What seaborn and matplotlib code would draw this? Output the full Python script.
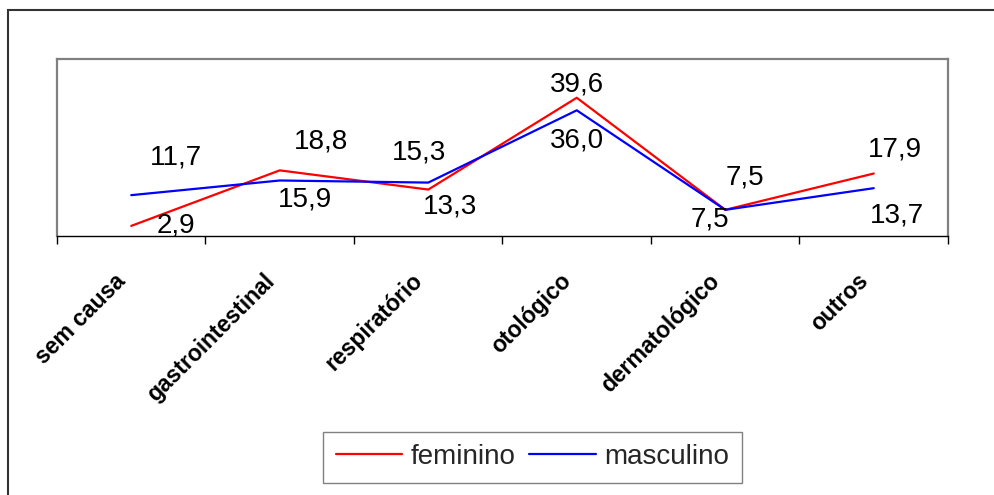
import matplotlib
matplotlib.use("Agg")
import matplotlib.pyplot as plt
import matplotlib.transforms as mtransforms
from matplotlib.patches import Rectangle
import numpy as np
import pandas as pd
import seaborn as sns

categorias = ["sem causa", "gastrointestinal", "respiratório", "otológico",
              "dermatológico", "outros"]
feminino = [2.9, 18.8, 13.3, 39.6, 7.5, 17.9]
masculino = [11.7, 15.9, 15.3, 36.0, 7.5, 13.7]
series = ["feminino", "masculino"]

# value label offsets in points (dx, dy)
off_fem = [(32, 0), (30, 21), (16, -12), (0, 9.5), (14.5, 23), (15, 17)]
off_masc = [(32, 27), (18, -14), (-6.5, 22), (0, -22), (-11, -7), (17, -20)]

df = pd.DataFrame({
    "x": list(range(len(categorias))) * 2,
    "valor": feminino + masculino,
    "sexo": [series[0]] * len(feminino) + [series[1]] * len(masculino),
})

sns.set_theme(style="white")
plt.rcParams["font.family"] = ["Liberation Sans", "DejaVu Sans"]

fig = plt.figure(figsize=(9.95, 4.95), dpi=100)
ax = fig.add_axes([57 / 995, 1 - 236 / 495, (948 - 57) / 995, (236 - 59) / 495])

sns.lineplot(data=df, x="x", y="valor", hue="sexo",
             palette={"feminino": "#ff0000", "masculino": "#0000ff"},
             linewidth=1.6, ax=ax, legend=False)

ax.set_xlim(-0.5, len(categorias) - 0.5)
ax.set_ylim(0, 50.7)
ax.set_xlabel("")
ax.set_ylabel("")
ax.set_yticks([])

for s in ("top", "right", "left"):
    ax.spines[s].set_color("#808080")
    ax.spines[s].set_linewidth(1.6)
ax.spines["bottom"].set_color("black")
ax.spines["bottom"].set_linewidth(1.0)

ax.set_xticks(range(len(categorias)))
ax.set_xticklabels(categorias, rotation=45, ha="right", va="top",
                   rotation_mode="anchor", fontsize=16.5, fontweight="bold",
                   color="black")
ax.tick_params(axis="x", which="major", length=0, pad=24)
shift = mtransforms.ScaledTranslation(-17 / 100, 0, fig.dpi_scale_trans)
for lab in ax.get_xticklabels():
    lab.set_transform(lab.get_transform() + shift)
ax.set_xticks(np.arange(-0.5, len(categorias), 1.0), minor=True)
ax.tick_params(axis="x", which="minor", length=6, width=1, color="black",
               direction="out", bottom=True)

for vals, offs in ((feminino, off_fem), (masculino, off_masc)):
    for i, (v, (dx, dy)) in enumerate(zip(vals, offs)):
        ax.annotate(f"{v:.1f}".replace(".", ","), (i, v), xytext=(dx, dy),
                    textcoords="offset points", ha="center", va="center",
                    fontsize=20, color="black")

handles = [plt.Line2D([], [], color="#ff0000", linewidth=1.6),
           plt.Line2D([], [], color="#0000ff", linewidth=1.6)]
leg = fig.legend(handles, series, loc="center", ncol=2,
                 bbox_to_anchor=(532.5 / 995, 1 - 457 / 495),
                 fontsize=20, frameon=True, fancybox=False,
                 handlelength=2.4, handletextpad=0.3, columnspacing=0.5,
                 borderpad=0.45)
leg.get_frame().set_edgecolor("#606060")
leg.get_frame().set_linewidth(1.0)

fig.patches.append(Rectangle((8 / 995, -0.05), 1.1, 1 - 10 / 495 + 0.05,
                             transform=fig.transFigure, fill=False,
                             edgecolor="#333333", linewidth=1.5))

fig.savefig("out.png", dpi=100)
